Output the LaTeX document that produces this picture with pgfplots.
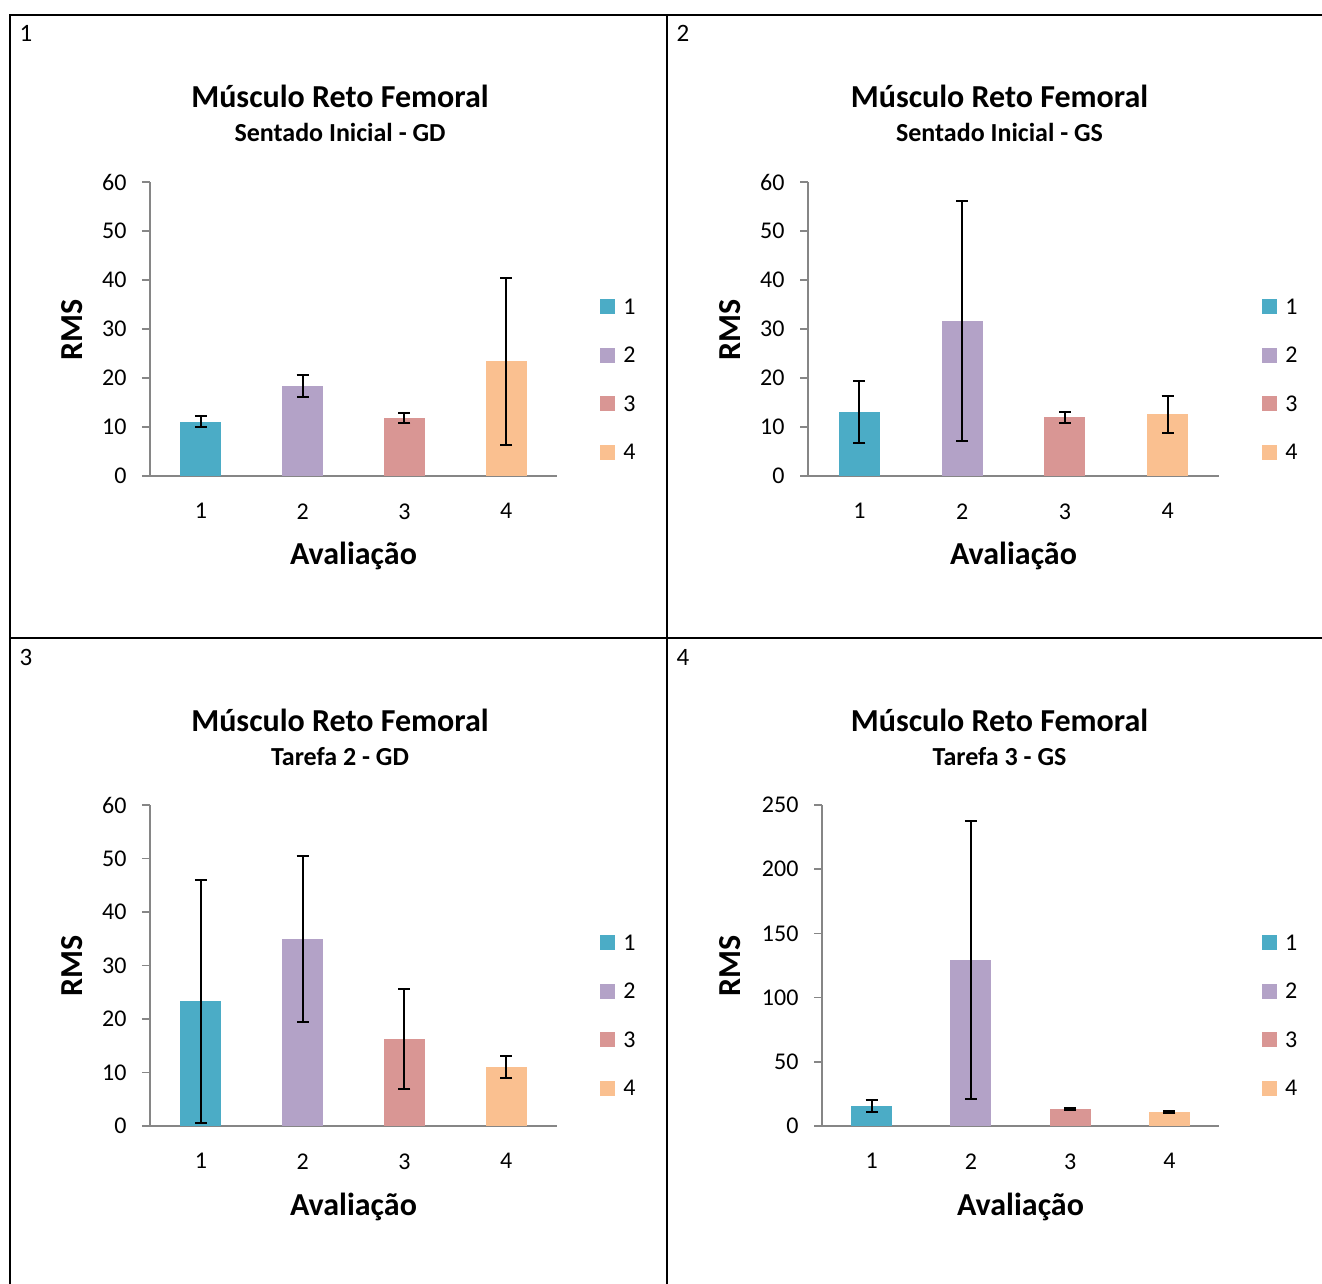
\documentclass[border=0pt]{standalone}
\usepackage{fontspec}
\setmainfont{Carlito}
\usepackage{pgfplots}
\pgfplotsset{compat=1.18}
\definecolor{c1}{HTML}{4BACC6}
\definecolor{c2}{HTML}{B3A2C7}
\definecolor{c3}{HTML}{D99694}
\definecolor{c4}{HTML}{FAC090}
\definecolor{axgray}{HTML}{868686}
\newcommand\tickfont{\fontsize{24}{24}\selectfont}
\newcommand\titlefont{\fontsize{32}{32}\selectfont\bfseries}
\newcommand\subfont{\fontsize{26}{26}\selectfont\bfseries}
\newcommand\labfont{\fontsize{32}{32}\selectfont\bfseries}
\newcommand\numfont{\fontsize{25}{25}\selectfont}
\pgfplotsset{
  panel/.style={
    scale only axis, anchor=south west,
    xmin=0.5, xmax=4.5, ymin=0,
    axis x line=bottom, axis y line=left,
    axis line style={draw=axgray, line width=1.6pt, -},
    tick align=outside, major tick length=8pt,
    ytick style={draw=axgray, line width=1.6pt},
    xtick style={draw=none},
    xtick={1,2,3,4},
    /pgf/number format/assume math mode=true,
    tick label style={font=\tickfont},
    xticklabel style={yshift=-16pt},
    yticklabel style={xshift=-12pt},
    ybar, bar width=41pt, bar shift=0pt,
    xlabel={Avaliação}, ylabel={RMS},
    xlabel style={font=\labfont},
    ylabel style={font=\labfont, anchor=center},
    legend style={draw=none, fill=none, inner sep=0pt, font=\tickfont,
      row sep=33.5pt, anchor=west,
      nodes={inner sep=0pt, text height=15pt, text depth=0pt},
      /tikz/every odd column/.style={column sep=8pt}},
    legend cell align=left,
  },
  sq/.style={draw=none, fill=#1,
    legend image code/.code={\fill[##1] (0pt,-7.5pt) rectangle (15pt,7.5pt);},
    error bars/.cd, y dir=both, y explicit,
    error bar style={black, line width=2pt},
    error mark options={rotate=90, mark size=6pt, black, line width=2pt}},
}
\begin{document}
\begin{tikzpicture}[x=1pt,y=1pt]
\useasboundingbox (0,0) rectangle (1322,1284);
\draw[line width=2pt] (10,0) -- (10,1269) -- (1322,1269);
\draw[line width=2pt] (667,0) -- (667,1269);
\draw[line width=2pt] (10,645.5) -- (1322,645.5);
\node[font=\numfont, anchor=base] at (26,1242) {1};
\node[font=\numfont, anchor=base] at (683,1242) {2};
\node[font=\numfont, anchor=base] at (26,618) {3};
\node[font=\numfont, anchor=base] at (683,618) {4};
% titles
\node[font=\titlefont, anchor=base] at (340,1176) {Músculo Reto Femoral};
\node[font=\subfont, anchor=base] at (340,1142) {Sentado Inicial - GD};
\node[font=\titlefont, anchor=base] at (999.5,1176) {Músculo Reto Femoral};
\node[font=\subfont, anchor=base] at (999.5,1142) {Sentado Inicial - GS};
\node[font=\titlefont, anchor=base] at (340,552) {Músculo Reto Femoral};
\node[font=\subfont, anchor=base] at (340,518) {Tarefa 2 - GD};
\node[font=\titlefont, anchor=base] at (999.5,552) {Músculo Reto Femoral};
\node[font=\subfont, anchor=base] at (999.5,518) {Tarefa 3 - GS};

% Panel 1
\begin{axis}[panel, at={(150pt,808pt)}, width=407pt, height=294pt,
  ymax=60, ytick={0,10,...,60},
  xlabel style={at={(axis description cs:0.5,-0.302)}, anchor=base},
  ylabel style={at={(axis description cs:-0.192,0.497)}},
  legend style={at={(axis description cs:1.106,0.329)}}]
\addplot[sq=c1] coordinates {(1,11.1) +- (0,1.1)};
\addplot[sq=c2] coordinates {(2,18.4) +- (0,2.3)};
\addplot[sq=c3] coordinates {(3,11.9) +- (0,1.05)};
\addplot[sq=c4] coordinates {(4,23.4) +- (0,17.0)};
\legend{1,2,3,4}
\end{axis}

% Panel 2
\begin{axis}[panel, at={(808pt,808pt)}, width=411pt, height=294pt,
  ymax=60, ytick={0,10,...,60},
  xlabel style={at={(axis description cs:0.5,-0.302)}, anchor=base},
  ylabel style={at={(axis description cs:-0.19,0.497)}},
  legend style={at={(axis description cs:1.105,0.329)}}]
\addplot[sq=c1] coordinates {(1,13.1) +- (0,6.3)};
\addplot[sq=c2] coordinates {(2,31.6) +- (0,24.45)};
\addplot[sq=c3] coordinates {(3,11.95) +- (0,1.05)};
\addplot[sq=c4] coordinates {(4,12.6) +- (0,3.8)};
\legend{1,2,3,4}
\end{axis}

% Panel 3
\begin{axis}[panel, at={(150pt,158pt)}, width=407pt, height=321pt,
  ymax=60, ytick={0,10,...,60},
  xlabel style={at={(axis description cs:0.5,-0.279)}, anchor=base},
  ylabel style={at={(axis description cs:-0.192,0.498)}},
  legend style={at={(axis description cs:1.106,0.344)}}]
\addplot[sq=c1] coordinates {(1,23.3) +- (0,22.7)};
\addplot[sq=c2] coordinates {(2,34.95) +- (0,15.55)};
\addplot[sq=c3] coordinates {(3,16.3) +- (0,9.4)};
\addplot[sq=c4] coordinates {(4,11.0) +- (0,2.0)};
\legend{1,2,3,4}
\end{axis}

% Panel 4
\begin{axis}[panel, at={(822pt,158pt)}, width=397pt, height=321pt,
  ymax=250, ytick={0,50,...,250},
  xlabel style={at={(axis description cs:0.5,-0.279)}, anchor=base},
  ylabel style={at={(axis description cs:-0.232,0.498)}},
  legend style={at={(axis description cs:1.108,0.344)}}]
\addplot[sq=c1] coordinates {(1,15.6) +- (0,4.8)};
\addplot[sq=c2] coordinates {(2,129.3) +- (0,108)};
\addplot[sq=c3] coordinates {(3,13.2) +- (0,1.0)};
\addplot[sq=c4] coordinates {(4,10.9) +- (0,0.6)};
\legend{1,2,3,4}
\end{axis}
\end{tikzpicture}
\end{document}
